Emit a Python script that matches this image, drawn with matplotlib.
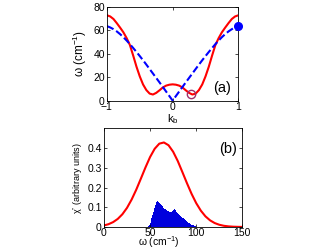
import matplotlib
matplotlib.use("Agg")
import matplotlib.pyplot as plt
import numpy as np

plt.rcParams.update({"font.family": ["Liberation Sans", "DejaVu Sans"],
                     "font.size": 7.5,
                     "mathtext.fontset": "custom",
                     "mathtext.rm": "Liberation Sans",
                     "mathtext.it": "Liberation Sans:italic",
                     "mathtext.default": "regular",
                     "axes.linewidth": 0.6,
                     "xtick.direction": "in", "ytick.direction": "in",
                     "xtick.top": True, "ytick.right": True,
                     "xtick.major.size": 2.5, "ytick.major.size": 2.5,
                     "xtick.major.width": 0.5, "ytick.major.width": 0.5,
                     "xtick.major.pad": 1.0, "ytick.major.pad": 1.5})

# ---- panel (a): dispersion along k_b ----
k_b = np.linspace(-1, 1, 41)
omega_red = [73.0, 72.0, 69.8, 66.3, 62.5, 58.5, 53.5, 47.5, 38.5, 29.0, 20.7,
             13.8, 9.0, 6.0, 5.2, 6.6, 8.8, 11.2, 12.8, 13.6, 13.9,
             13.6, 12.8, 11.2, 8.8, 6.6, 5.2, 6.0, 9.0, 13.8, 20.7,
             29.0, 38.5, 47.5, 53.5, 58.5, 62.5, 66.3, 69.8, 72.0, 73.0]
omega_blue = [63.7, 62.6, 61.1, 59.2, 56.9, 54.3, 51.4, 48.3, 45.0, 41.6, 38.1,
              34.5, 30.8, 27.0, 23.2, 19.4, 15.6, 11.7, 7.8, 3.9, 0.0,
              3.9, 7.8, 11.7, 15.6, 19.4, 23.2, 27.0, 30.8, 34.5, 38.1,
              41.6, 45.0, 48.3, 51.4, 54.3, 56.9, 59.2, 61.1, 62.6, 63.7]
min_point = (0.28, 5.8)
edge_point = (1.0, 63.7)

# ---- panel (b): spectrum ----
omega_b = np.arange(0, 151, 5)
chi_red = [0.0078, 0.0142, 0.0248, 0.041, 0.0646, 0.097, 0.139, 0.189, 0.245,
           0.302, 0.355, 0.397, 0.423, 0.429, 0.415, 0.382, 0.335, 0.279,
           0.222, 0.168, 0.121, 0.083, 0.054, 0.0337, 0.020, 0.0113, 0.006,
           0.0031, 0.0015, 0.0007, 0.0003]
hist_omega = np.arange(48, 101)
hist_vals = [0.003, 0.01, 0.02, 0.03, 0.045, 0.06, 0.078, 0.095, 0.112, 0.125,
             0.13, 0.125, 0.12, 0.115, 0.11, 0.105, 0.1, 0.097, 0.093, 0.09,
             0.087, 0.083, 0.08, 0.078, 0.076, 0.078, 0.082, 0.086, 0.09,
             0.092, 0.085, 0.075, 0.07, 0.065, 0.06, 0.056, 0.052, 0.048,
             0.044, 0.04, 0.036, 0.032, 0.028, 0.024, 0.021, 0.018, 0.015,
             0.012, 0.01, 0.008, 0.006, 0.004, 0.002]

fig = plt.figure(figsize=(3.32, 2.49), dpi=100)

ax1 = fig.add_axes([0.322, 0.596, 0.396, 0.3755])
ax1.plot(k_b, omega_red, color="red", lw=1.5)
ax1.plot(k_b, omega_blue, color="blue", lw=1.5, ls=(0, (3.5, 1.5)))
ax1.plot(*min_point, "o", ms=6, mfc="none", mec="#a0306a", mew=1.0)
ax1.plot(*edge_point, "o", ms=5.5, color="blue", clip_on=False, zorder=5)
ax1.set_xlim(-1, 1)
ax1.set_ylim(0, 80)
ax1.set_xticks([-1, 0, 1])
ax1.set_yticks([0, 20, 40, 60, 80])
ax1.set_xlabel("k$_b$", labelpad=0, fontsize=8)
ax1.set_ylabel("ω (cm$^{-1}$)", labelpad=3, fontsize=8.5)
ax1.text(0.875, 0.135, "(a)", transform=ax1.transAxes, fontsize=10.5,
         ha="center", va="center")

ax2 = fig.add_axes([0.313, 0.0884, 0.417, 0.3956])
ax2.bar(hist_omega, hist_vals, width=1.0, color="#0000dd", linewidth=0)
ax2.plot(omega_b, chi_red, color="red", lw=1.5)
ax2.set_xlim(0, 150)
ax2.set_ylim(0, 0.5)
ax2.set_xticks([0, 50, 100, 150])
ax2.set_yticks([0, 0.1, 0.2, 0.3, 0.4])
ax2.set_yticklabels(["0", "0.1", "0.2", "0.3", "0.4"])
ax2.set_xlabel("ω (cm$^{-1}$)", fontsize=7.5)
ax2.xaxis.set_label_coords(0.4, -0.075)
ax2.set_ylabel("χ$''$ (arbitrary units)", fontsize=6.5, labelpad=2)
ax2.text(0.897, 0.79, "(b)", transform=ax2.transAxes, fontsize=10.5,
         ha="center", va="center")

fig.savefig("out.png", dpi=100)
